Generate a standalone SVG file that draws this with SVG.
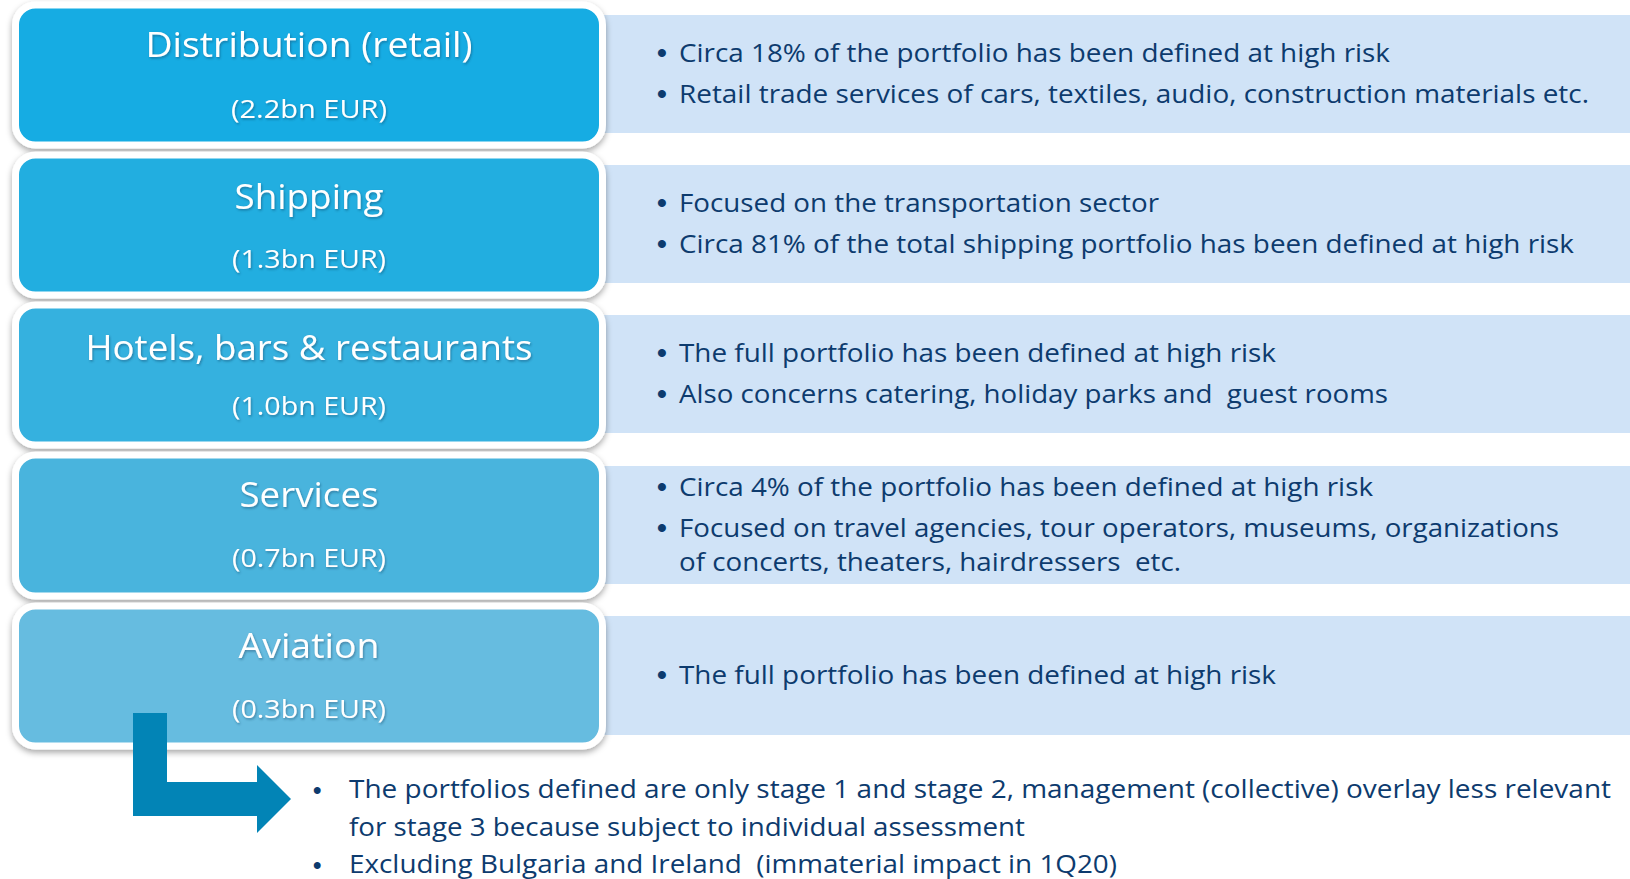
<svg xmlns="http://www.w3.org/2000/svg" width="1630" height="879" viewBox="0 0 1630 879">
<defs>
<filter id="sh" x="-5%" y="-10%" width="110%" height="125%">
<feDropShadow dx="0" dy="3" stdDeviation="3" flood-color="#000" flood-opacity="0.35"/>
</filter>
<filter id="tsh" x="-5%" y="-20%" width="110%" height="150%">
<feDropShadow dx="1" dy="1.5" stdDeviation="1.2" flood-color="#1a3a5a" flood-opacity="0.45"/>
</filter>
<style>
.panel{fill:#D0E3F7}
.box{stroke:#fff;stroke-width:7;filter:url(#sh)}
.title{font-family:"Open Sans","Liberation Sans",sans-serif;font-size:35px;fill:#fff;text-anchor:middle;filter:url(#tsh)}
.sub{font-family:"Open Sans","Liberation Sans",sans-serif;font-size:25px;fill:#fff;text-anchor:middle;filter:url(#tsh)}
.t{font-family:"Open Sans","Liberation Sans",sans-serif;font-size:25px;fill:#0D3B6E;white-space:pre}
.bl{font-family:"Liberation Sans",sans-serif;font-size:28px;font-weight:bold;fill:#0D3B6E}
.b{font-family:"Open Sans","Liberation Sans",sans-serif;font-size:26px;fill:#0D3B6E;white-space:pre}
.arrow{fill:#0284B6}
</style>
</defs>
<rect width="1630" height="879" fill="#fff"/>

<g id="panels">
<rect class="panel" x="590" y="15" width="1040" height="118"/>
<rect class="panel" x="590" y="165" width="1040" height="118"/>
<rect class="panel" x="590" y="315" width="1040" height="118"/>
<rect class="panel" x="590" y="466" width="1040" height="118"/>
<rect class="panel" x="590" y="616" width="1040" height="119"/>
</g>

<g id="node-distribution">
<rect class="box" x="15.5" y="5" width="587" height="140" rx="20" fill="#12ACE3"/>
<text class="title" x="309" y="57" textLength="327" lengthAdjust="spacingAndGlyphs">Distribution (retail)</text>
<text class="sub" x="309" y="118" textLength="156" lengthAdjust="spacingAndGlyphs">(2.2bn EUR)</text>
<text class="bl" x="657" y="62">•</text>
<text class="t" x="679" y="62" textLength="711" lengthAdjust="spacingAndGlyphs">Circa 18% of the portfolio has been defined at high risk</text>
<text class="bl" x="657" y="103">•</text>
<text class="t" x="679" y="103" textLength="910" lengthAdjust="spacingAndGlyphs">Retail trade services of cars, textiles, audio, construction materials etc.</text>
</g>

<g id="node-shipping">
<rect class="box" x="15.5" y="155" width="587" height="140" rx="20" fill="#22AEE0"/>
<text class="title" x="309" y="209" textLength="149" lengthAdjust="spacingAndGlyphs">Shipping</text>
<text class="sub" x="309" y="268" textLength="154" lengthAdjust="spacingAndGlyphs">(1.3bn EUR)</text>
<text class="bl" x="657" y="212">•</text>
<text class="t" x="679" y="212" textLength="480" lengthAdjust="spacingAndGlyphs">Focused on the transportation sector</text>
<text class="bl" x="657" y="253">•</text>
<text class="t" x="679" y="253" textLength="895" lengthAdjust="spacingAndGlyphs">Circa 81% of the total shipping portfolio has been defined at high risk</text>
</g>

<g id="node-hotels">
<rect class="box" x="15.5" y="305" width="587" height="140" rx="20" fill="#35B1DF"/>
<text class="title" x="309" y="360" textLength="447" lengthAdjust="spacingAndGlyphs">Hotels, bars &amp; restaurants</text>
<text class="sub" x="309" y="415" textLength="154" lengthAdjust="spacingAndGlyphs">(1.0bn EUR)</text>
<text class="bl" x="657" y="362">•</text>
<text class="t" x="679" y="362" textLength="597" lengthAdjust="spacingAndGlyphs">The full portfolio has been defined at high risk</text>
<text class="bl" x="657" y="403">•</text>
<text class="t" x="679" y="403" textLength="709" lengthAdjust="spacingAndGlyphs">Also concerns catering, holiday parks and  guest rooms</text>
</g>

<g id="node-services">
<rect class="box" x="15.5" y="455" width="587" height="141" rx="20" fill="#4AB4DD"/>
<text class="title" x="309" y="507" textLength="139" lengthAdjust="spacingAndGlyphs">Services</text>
<text class="sub" x="309" y="567" textLength="154" lengthAdjust="spacingAndGlyphs">(0.7bn EUR)</text>
<text class="bl" x="657" y="496">•</text>
<text class="t" x="679" y="496" textLength="694" lengthAdjust="spacingAndGlyphs">Circa 4% of the portfolio has been defined at high risk</text>
<text class="bl" x="657" y="537">•</text>
<text class="t" x="679" y="537" textLength="880" lengthAdjust="spacingAndGlyphs">Focused on travel agencies, tour operators, museums, organizations</text>
<text class="t" x="679" y="571" textLength="502" lengthAdjust="spacingAndGlyphs">of concerts, theaters, hairdressers  etc.</text>
</g>

<g id="node-aviation">
<rect class="box" x="15.5" y="606" width="587" height="140" rx="20" fill="#66BCE0"/>
<text class="title" x="309" y="658" textLength="141" lengthAdjust="spacingAndGlyphs">Aviation</text>
<text class="sub" x="309" y="718" textLength="154" lengthAdjust="spacingAndGlyphs">(0.3bn EUR)</text>
<text class="bl" x="657" y="684">•</text>
<text class="t" x="679" y="684" textLength="597" lengthAdjust="spacingAndGlyphs">The full portfolio has been defined at high risk</text>
</g>

<g id="connectors">
<path class="arrow" d="M133,713 H167 V782 H257 V765 L291,799 L257,833 V816 H133 Z"/>
</g>

<g id="node-notes">
<text class="bl" x="313" y="798" style="font-size:24px">•</text>
<text class="b" x="349" y="798" textLength="1262" lengthAdjust="spacingAndGlyphs">The portfolios defined are only stage 1 and stage 2, management (collective) overlay less relevant</text>
<text class="b" x="349" y="836" textLength="676" lengthAdjust="spacingAndGlyphs">for stage 3 because subject to individual assessment</text>
<text class="bl" x="313" y="873" style="font-size:24px">•</text>
<text class="b" x="349" y="873" textLength="768" lengthAdjust="spacingAndGlyphs">Excluding Bulgaria and Ireland  (immaterial impact in 1Q20)</text>
</g>
</svg>
